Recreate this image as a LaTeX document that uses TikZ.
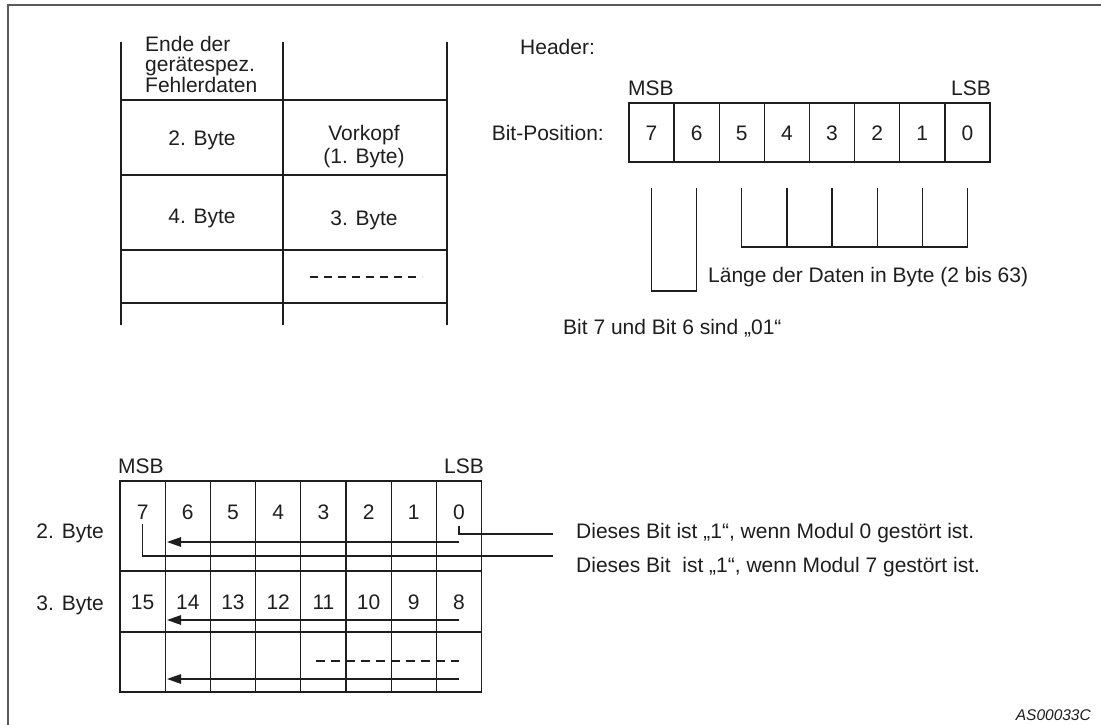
\documentclass[tikz,border=0pt]{standalone}
\usepackage{fontspec}
\setmainfont{Liberation Sans}
\usetikzlibrary{arrows.meta}
\definecolor{lc}{HTML}{1E1E1E}
\definecolor{fc}{HTML}{5A5A5A}
\begin{document}
\begin{tikzpicture}[x=1pt,y=-1pt,
  ln/.style={draw=lc,line width=1.3pt},
  arr/.style={ln,-{Triangle[length=14pt,width=9.5pt]}},
  every node/.style={text=lc,inner sep=0pt,font=\fontsize{21}{22}\selectfont}]
\useasboundingbox (0,0) rectangle (1101,725);
% frame
\draw[draw=fc,line width=2pt] (1101,5) -- (8,5) -- (8,725);

% ---------- top-left table ----------
\foreach \x in {121,283,447} \draw[ln] (\x,42) -- (\x,325);
\foreach \y in {100,175,250,303} \draw[ln] (121,\y) -- (447,\y);
\node[anchor=north west,align=left,font=\fontsize{21}{20.5}\selectfont] (ende) at (145,36) {Ende der\\gerätespez.\\Fehlerdaten};
\node (b2) at (202,140) {2. Byte};
\node[align=center,font=\fontsize{21}{23}\selectfont] (vk) at (364,147) {Vorkopf\\(1. Byte)};
\node (b4) at (202,218) {4. Byte};
\node (b3) at (364,220) {3. Byte};
\draw[ln,dash pattern=on 8pt off 6pt] (310,277) -- (422,277);

% ---------- header ----------
\node[anchor=west] (hdr) at (520,47) {Header:};
\node[anchor=west] (msb1) at (628,88) {MSB};
\node[anchor=east] (lsb1) at (991,88) {LSB};
\node[anchor=east] (bp) at (604,133) {Bit-Position:};
\draw[ln] (629,103) rectangle (990,162);
\foreach \i in {1,...,7} \draw[ln] ({629+45.125*\i},103) -- ({629+45.125*\i},162);
\foreach \d [count=\i from 0] in {7,6,5,4,3,2,1,0}
  \node (h\d) at ({651.56+45.125*\i},133) {\d};
\foreach \d in {7,6,5,4,3,2,1,0} {
  \coordinate (t\d) at (h\d |- 0,188);
}
\draw[ln] (t7) -- (t7 |- 0,291) -- (t6 |- 0,291) -- (t6);
\draw[ln] (t5) -- (t5 |- 0,247) -- (t0 |- 0,247) -- (t0);
\foreach \d in {4,3,2,1} \draw[ln] (t\d) -- (t\d |- 0,247);
\node[anchor=west] (laenge) at (708,277) {Länge der Daten in Byte (2 bis 63)};
\node[anchor=west] (b76) at (563,328) {Bit 7 und Bit 6 sind „01“};

% ---------- bottom grid ----------
\node[anchor=west] (msb2) at (118,466) {MSB};
\node[anchor=east] (lsb2) at (484,466) {LSB};
\draw[ln] (120,481) rectangle (481.6,692);
\foreach \i in {1,...,7} \draw[ln] ({120+45.2*\i},481) -- ({120+45.2*\i},692);
\foreach \y in {571,632} \draw[ln] (120,\y) -- (481.6,\y);
\foreach \d [count=\i from 0] in {7,6,5,4,3,2,1,0}
  \node (g\d) at ({142.6+45.2*\i},512) {\d};
\foreach \d [count=\i from 0] in {15,14,13,12,11,10,9,8}
  \node (g\d) at ({142.6+45.2*\i},602) {\d};
\node[anchor=east] (r2) at (104,533) {2. Byte};
\node[anchor=east] (r3) at (104,605) {3. Byte};

\coordinate (s1) at (g0 |- 0,542);
\coordinate (e1) at (167,542);
\draw[arr] (s1) -- (e1);
\coordinate (s2) at (g0 |- 0,620);
\coordinate (e2) at (167,620);
\draw[arr] (s2) -- (e2);
\coordinate (s3) at (g0 |- 0,679);
\coordinate (e3) at (167,679);
\draw[arr] (s3) -- (e3);
\coordinate (d1) at (316,661);
\coordinate (d2) at (g0 |- 0,661);
\draw[ln,dash pattern=on 9pt off 6pt] (d1) -- (d2);

\node[anchor=west] (m0) at (576,533) {Dieses Bit ist „1“, wenn Modul 0 gestört ist.};
\node[anchor=west] (m7) at (576,567) {Dieses Bit~ ist „1“, wenn Modul 7 gestört ist.};
\coordinate (c0) at (553,534);
\coordinate (c7) at (553,556);
\draw[ln] (g0 |- 0,526) -- (g0 |- c0) -- (c0);
\draw[ln] (g7 |- 0,524) -- (g7 |- c7) -- (c7);

\node[anchor=east,font=\fontsize{15.5}{17}\selectfont\itshape] (code) at (1091,715) {AS00033C};
\end{tikzpicture}
\end{document}
